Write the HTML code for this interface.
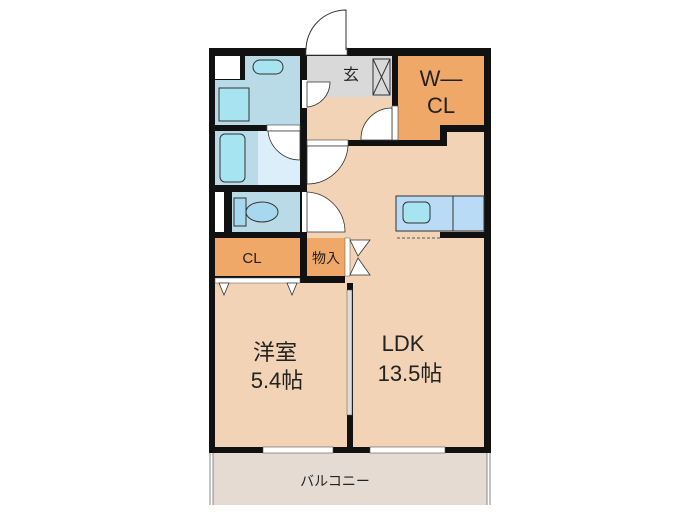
<!DOCTYPE html>
<html><head><meta charset="utf-8"><style>
html,body{margin:0;padding:0;background:#fff;}
svg{display:block}
text{font-family:"Liberation Sans","Noto Sans CJK JP",sans-serif;fill:#222}
</style></head><body>
<svg width="700" height="525" viewBox="0 0 700 525" xmlns="http://www.w3.org/2000/svg">
<!-- balcony -->
<rect x="213" y="453" width="274" height="52" fill="#e6dbd2"/>
<line x1="210" y1="453" x2="210" y2="505" stroke="#888" stroke-width="1"/>
<line x1="213" y1="453" x2="213" y2="505" stroke="#888" stroke-width="1"/>
<line x1="487" y1="453" x2="487" y2="505" stroke="#888" stroke-width="1"/>
<line x1="490" y1="453" x2="490" y2="505" stroke="#888" stroke-width="1"/>
<!-- outer black -->
<rect x="209" y="48" width="282" height="405" fill="#111"/>
<!-- rooms -->
<rect x="215" y="56" width="25" height="23" fill="#fff"/>
<rect x="245" y="56" width="55" height="24" fill="#b9dbe8"/>
<rect x="215" y="80" width="85" height="45" fill="#b9dbe8"/>
<rect x="219" y="88" width="30" height="33" fill="#a6e4f2" stroke="#333" stroke-width="1"/>
<rect x="253" y="60" width="30" height="14" rx="7" fill="#a6e4f2" stroke="#333" stroke-width="1"/>
<rect x="215" y="131" width="43" height="54" fill="#b9dbe8"/>
<rect x="220" y="134" width="25" height="48" rx="5" fill="#a6e4f2" stroke="#333" stroke-width="1"/>
<rect x="258" y="131" width="42" height="54" fill="#dbeefa"/>
<rect x="215" y="192" width="9" height="40" fill="#fff"/>
<rect x="232" y="192" width="68" height="40" fill="#b9dbe8"/>
<rect x="234" y="198" width="12" height="28" fill="#a6d8f0" stroke="#333" stroke-width="1"/>
<ellipse cx="262" cy="212" rx="16" ry="10" fill="#a6d8f0" stroke="#333" stroke-width="1"/>
<rect x="215" y="238" width="85" height="38" fill="#f0a868"/>
<rect x="307" y="238" width="38" height="38" fill="#f0a868"/>
<rect x="307" y="56" width="85" height="41" fill="#d9d9d9"/>
<rect x="373" y="59" width="17" height="36" fill="none" stroke="#333" stroke-width="1"/>
<path d="M373 59 L390 95 M390 59 L373 95" stroke="#333" stroke-width="1"/>
<rect x="307" y="97" width="85" height="43" fill="#f3d3b5"/>
<path d="M398 56 L484 56 L484 125 L440 125 L440 140 L398 140 Z" fill="#f0a868"/>
<rect x="307" y="146" width="177" height="92" fill="#f3d3b5"/>
<rect x="447" y="132" width="37" height="14" fill="#f3d3b5"/>
<rect x="353" y="238" width="131" height="209" fill="#f3d3b5"/>
<rect x="345" y="238" width="8" height="45" fill="#f3d3b5"/>
<rect x="215" y="283" width="132" height="164" fill="#f3d3b5"/>
<rect x="440" y="232" width="44" height="6" fill="#111"/>
<!-- kitchen -->
<rect x="396" y="196" width="88" height="35" fill="#b9dbf6" stroke="#333" stroke-width="1"/>
<line x1="453" y1="196" x2="453" y2="231" stroke="#333"/>
<rect x="403" y="202" width="27" height="21" rx="5" fill="#a6e4f2" stroke="#333"/>
<line x1="397" y1="238" x2="440" y2="238" stroke="#555" stroke-dasharray="3,2"/>
<!-- door openings & arcs -->
<rect x="306" y="48" width="41" height="7" fill="#fff" stroke="#555" stroke-width="0.7"/>
<path d="M306 50 A40 40 0 0 1 346 10 L346 50" fill="#fff" stroke="#333" stroke-width="1"/>
<rect x="302" y="80" width="5" height="28" fill="#fff"/>
<path d="M307 82 L330 82 A25 25 0 0 1 307 107 Z" fill="#fff" stroke="#333" stroke-width="0.8"/>
<rect x="392" y="106" width="6" height="34" fill="#fff" stroke="#555" stroke-width="0.7"/>
<path d="M392 108 L392 140 L361 140 A31 31 0 0 1 392 108 Z" fill="#fff" stroke="#333" stroke-width="0.8"/>
<rect x="307" y="140" width="41" height="6" fill="#fff" stroke="#555" stroke-width="0.7"/>
<path d="M307 146 L348 146 A41 41 0 0 1 307 184 Z" fill="#fff" stroke="#333" stroke-width="0.8"/>
<rect x="267" y="125" width="33" height="6" fill="#fff" stroke="#555" stroke-width="0.7"/>
<path d="M268 131 L300 131 L300 160 A32 32 0 0 1 268 131 Z" fill="#fff" stroke="#333" stroke-width="0.8"/>
<rect x="302" y="192" width="5" height="40" fill="#fff"/>
<path d="M307 192 A40 40 0 0 1 345 232 L307 232 Z" fill="#fff" stroke="#333" stroke-width="0.8"/>
<rect x="345" y="238" width="5" height="38" fill="#fff" stroke="#555" stroke-width="0.5"/>
<path d="M350 240 L370 240 L358 256 Z M350 275 L370 275 L358 258 Z" fill="#fff" stroke="#333" stroke-width="0.8"/>
<rect x="215" y="278" width="85" height="5" fill="#fff" stroke="#555" stroke-width="0.5"/>
<path d="M219 283 L229 283 L224 295 Z M287 283 L297 283 L292 295 Z" fill="#fff" stroke="#333" stroke-width="0.8"/>
<rect x="347" y="290" width="5" height="125" fill="#ddd" stroke="#555" stroke-width="0.5"/>
<rect x="263" y="447" width="70" height="6" fill="#fff" stroke="#555" stroke-width="0.6"/>
<rect x="370" y="447" width="75" height="6" fill="#fff" stroke="#555" stroke-width="0.6"/>
<!-- labels -->
<text x="351" y="80" font-size="16" text-anchor="middle">玄</text>
<text x="441" y="86" font-size="22" text-anchor="middle">W—</text>
<text x="441" y="113" font-size="22" text-anchor="middle">CL</text>
<text x="252" y="263" font-size="15" text-anchor="middle">CL</text>
<text x="326" y="263" font-size="14" text-anchor="middle">物入</text>
<text x="275" y="360" font-size="22" text-anchor="middle">洋室</text>
<text x="277" y="388" font-size="22" text-anchor="middle">5.4帖</text>
<text x="403" y="351" font-size="22" text-anchor="middle">LDK</text>
<text x="410" y="381" font-size="22" text-anchor="middle">13.5帖</text>
<text x="335" y="486" font-size="14" text-anchor="middle">バルコニー</text>
</svg>
</body></html>
